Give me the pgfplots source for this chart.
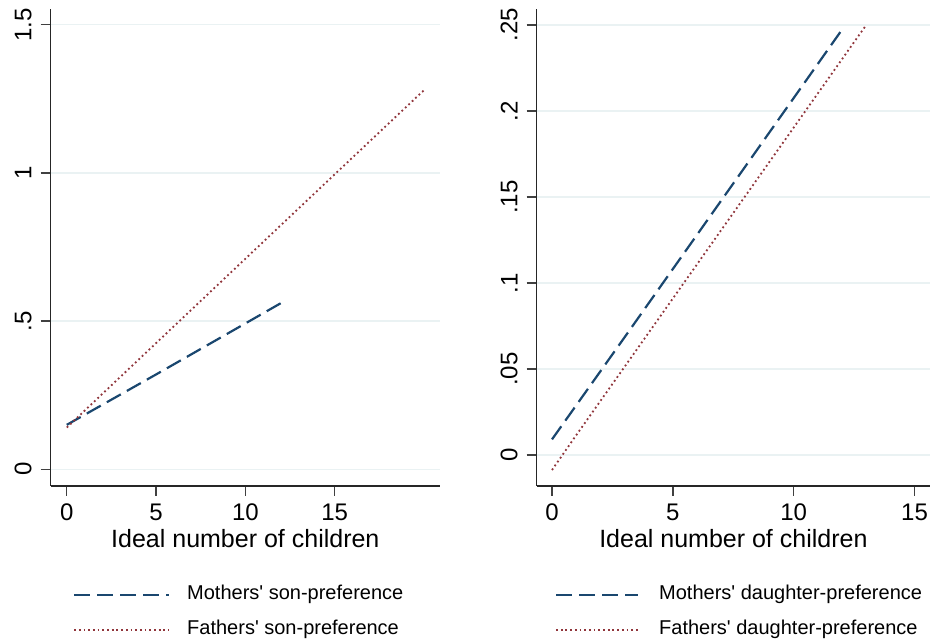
\documentclass[border=0pt]{standalone}
\usepackage{fontspec}
\setmainfont{Liberation Sans}
\usepackage{pgfplots}
\pgfplotsset{compat=1.18}
\definecolor{stnavy}{HTML}{1A476F}
\definecolor{stmaroon}{HTML}{90353B}
\definecolor{stgrid}{HTML}{EAF2F3}
\pgfplotsset{
  stata/.style={
    scale only axis,
    axis lines=left,
    axis line style={-, line width=1.3pt, black!85},
    tick align=outside,
    major tick length=10pt,
    tick style={line width=1.3pt, black!75},
    ymajorgrids,
    grid style={line width=1.4pt, stgrid},
    /pgf/number format/assume math mode=true,
    xtick={0,5,10,15},
    xticklabels={0,5,10,15},
    ticklabel style={font=\fontsize{24}{24}\selectfont},
    xticklabel style={inner sep=0pt, anchor=north},
    xticklabel shift=8pt,
    yticklabel style={rotate=90, anchor=south, inner sep=0pt},
    yticklabel shift=9pt,
    xlabel={Ideal number of children},
    xlabel style={font=\fontsize{25}{25}\selectfont, at={(axis description cs:0.5,0)}, anchor=base, yshift=-62pt, inner sep=0pt},
    legend cell align=left,
    legend style={draw=none, fill=none, anchor=north west, inner sep=0pt, outer sep=0pt,
      row sep=15pt,
      nodes={inner sep=0pt, text height=15pt, text depth=5pt, font=\fontsize{20}{24}\selectfont}},
  },
  mom/.style={stnavy, line width=2.2pt, dash pattern=on 16pt off 7pt},
  dad/.style={stmaroon, line width=1.8pt, dash pattern=on 1.8pt off 2.9pt},
}
\begin{document}
\begin{tikzpicture}
\path[use as bounding box] (0,0) rectangle (931pt,644pt);
% Left panel: son-preference
\begin{axis}[stata,
  at={(50.7pt,158pt)}, anchor=south west,
  width=389.3pt, height=477pt,
  xmin=-0.9, xmax=20.9, ymin=-0.0563, ymax=1.553,
  ytick={0,0.5,1,1.5}, yticklabels={0,.5,1,1.5},
  legend style={at={(0.0573,-0.2075)}, column sep=17pt},
  legend image code/.code={\draw[#1] (0pt,0pt) -- (95pt,0pt);},
]
\addplot[mom] coordinates {(0,0.150) (5,0.320) (12,0.561)};
\addlegendentry{Mothers\textquotesingle\ son-preference}
\addplot[dad] coordinates {(0,0.141) (15,0.995) (20,1.279)};
\addlegendentry{Fathers\textquotesingle\ son-preference}
\end{axis}
% Right panel: daughter-preference
\begin{axis}[stata,
  at={(536.7pt,158pt)}, anchor=south west,
  width=393.3pt, height=477pt,
  xmin=-0.633, xmax=15.64, ymin=-0.018, ymax=0.2593,
  ytick={0,0.05,0.1,0.15,0.2,0.25}, yticklabels={0,.05,.1,.15,.2,.25},
  legend style={at={(0.0465,-0.2075)}, column sep=20pt},
  legend image code/.code={\draw[#1] (0pt,0pt) -- (82pt,0pt);},
]
\addplot[mom] coordinates {(0,0.0091) (3,0.0684) (12,0.2473)};
\addlegendentry{Mothers\textquotesingle\ daughter-preference}
\addplot[dad] coordinates {(0,-0.0087) (1,0.0115) (9,0.1705) (13,0.250)};
\addlegendentry{Fathers\textquotesingle\ daughter-preference}
\end{axis}
\end{tikzpicture}
\end{document}
